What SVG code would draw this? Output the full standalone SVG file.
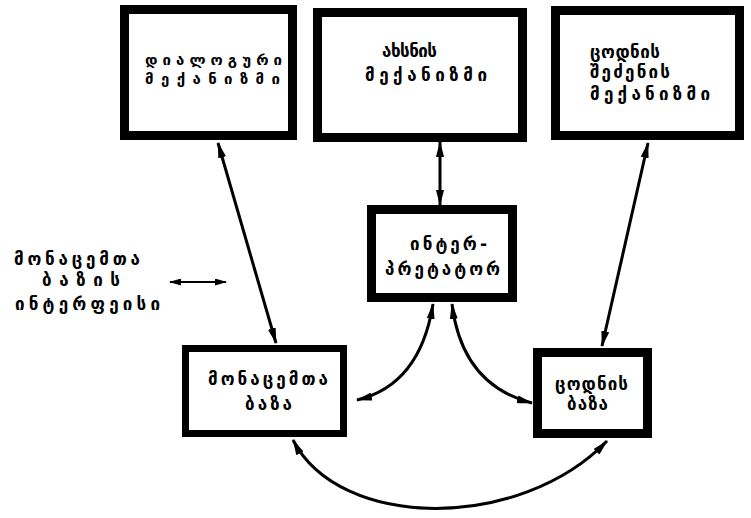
<svg xmlns="http://www.w3.org/2000/svg" width="751" height="518" viewBox="0 0 751 518">
<defs>
<style>
.box{fill:#fff;stroke:#000;stroke-width:9}
.box2{fill:#fff;stroke:#000;stroke-width:7}
.t{font-family:"DejaVu Sans","Noto Sans",sans-serif;font-weight:bold;font-size:17px;fill:#000}
.tc{font-size:15px}
.c{fill:none;stroke:#000;stroke-width:3}
.s{fill:none;stroke:#000;stroke-width:2}
</style>
<marker id="ah" viewBox="0 0 16 8" refX="15" refY="4" markerWidth="16" markerHeight="8" markerUnits="userSpaceOnUse" orient="auto-start-reverse">
<path d="M0,0 L16,4 L0,8 Z" fill="#000"/>
</marker>
<marker id="ahs" viewBox="0 0 12 7" refX="11" refY="3.5" markerWidth="12" markerHeight="7" markerUnits="userSpaceOnUse" orient="auto-start-reverse">
<path d="M0,0 L12,3.5 L0,7 Z" fill="#000"/>
</marker>
</defs>
<rect width="751" height="518" fill="#fff"/>
<g id="connectors">
<line class="c" x1="218" y1="143" x2="276" y2="343" marker-start="url(#ah)" marker-end="url(#ah)"/>
<line class="c" x1="440" y1="142" x2="440" y2="205" marker-start="url(#ah)" marker-end="url(#ah)"/>
<line class="c" x1="648" y1="143" x2="602" y2="346" marker-start="url(#ah)" marker-end="url(#ah)"/>
<path class="c" d="M433,304 Q420,385 357,400" marker-start="url(#ah)" marker-end="url(#ah)"/>
<path class="c" d="M452,304 Q462,385 532,403" marker-start="url(#ah)" marker-end="url(#ah)"/>
<path class="c" d="M293,440 C340,531 520,531 607,441" marker-start="url(#ah)" marker-end="url(#ah)"/>
<line class="s" x1="170" y1="282" x2="226" y2="282" marker-start="url(#ahs)" marker-end="url(#ahs)"/>
</g>
<g id="dialog">
<rect class="box" x="124.5" y="9.5" width="168" height="126"/>
<text class="t tc" x="145" y="65" textLength="137" lengthAdjust="spacing">დიალოგური</text>
<text class="t tc" x="145" y="84" textLength="135" lengthAdjust="spacing">მექანიზმი</text>
</g>
<g id="explain">
<rect class="box" x="317.5" y="12.5" width="205" height="125"/>
<text class="t" x="382" y="57" textLength="55" lengthAdjust="spacing">ახსნის</text>
<text class="t" x="365" y="81" textLength="122" lengthAdjust="spacing">მექანიზმი</text>
</g>
<g id="acquire">
<rect class="box" x="555.5" y="10.5" width="184" height="125"/>
<text class="t" x="590" y="58" textLength="70" lengthAdjust="spacing">ცოდნის</text>
<text class="t" x="590" y="78" textLength="80" lengthAdjust="spacing">შეძენის</text>
<text class="t" x="590" y="100" textLength="120" lengthAdjust="spacing">მექანიზმი</text>
</g>
<g id="interface">
<text class="t" x="14" y="265" textLength="126" lengthAdjust="spacing">მონაცემთა</text>
<text class="t" x="42" y="286" textLength="78" lengthAdjust="spacing">ბაზის</text>
<text class="t" x="15" y="310" textLength="145" lengthAdjust="spacing">ინტერფეისი</text>
</g>
<g id="interpreter">
<rect class="box" x="371.5" y="209.5" width="141" height="88"/>
<text class="t" x="410" y="250" textLength="77" lengthAdjust="spacing">ინტერ-</text>
<text class="t" x="385" y="275" textLength="115" lengthAdjust="spacing">პრეტატორ</text>
</g>
<g id="database">
<rect class="box2" x="185.5" y="348.5" width="158" height="85"/>
<text class="t" x="208" y="385" textLength="120" lengthAdjust="spacing">მონაცემთა</text>
<text class="t" x="245" y="410" textLength="47" lengthAdjust="spacing">ბაზა</text>
</g>
<g id="knowledge">
<rect class="box" x="537.5" y="352.5" width="110" height="81"/>
<text class="t" x="555" y="390" textLength="73" lengthAdjust="spacing">ცოდნის</text>
<text class="t" x="567" y="410" textLength="41" lengthAdjust="spacing">ბაზა</text>
</g>
</svg>
